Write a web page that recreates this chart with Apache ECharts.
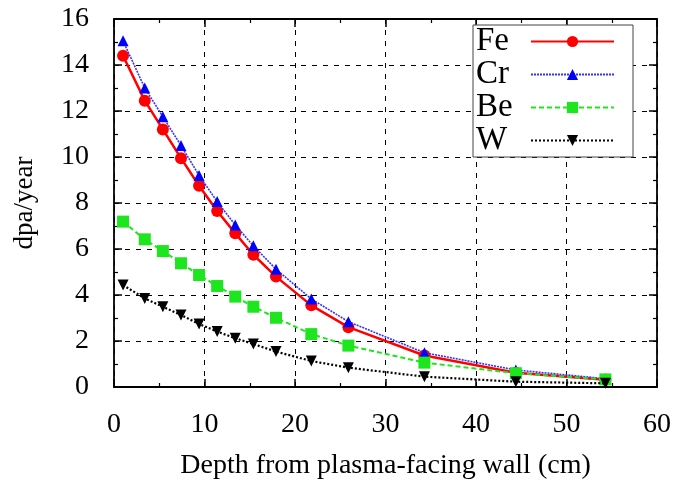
<!DOCTYPE html>
<html>
<head>
<meta charset="utf-8">
<script src="https://cdn.jsdelivr.net/npm/echarts@6/dist/echarts.min.js"></script>
<style>html,body{margin:0;padding:0;background:#fff}#c{width:675px;height:482px}</style>
</head>
<body>
<div id="c"></div>
<script>
var depth = [1, 3.4, 5.4, 7.4, 9.4, 11.4, 13.4, 15.4, 17.9, 21.8, 25.9, 34.3, 44.4, 54.3];
var fe = [14.4, 12.45, 11.2, 9.95, 8.75, 7.65, 6.68, 5.75, 4.8, 3.55, 2.6, 1.37, 0.62, 0.32];
var cr = [15.05, 13.0, 11.75, 10.5, 9.2, 8.06, 7.04, 6.14, 5.12, 3.83, 2.84, 1.49, 0.74, 0.36];
var be = [7.19, 6.42, 5.91, 5.38, 4.87, 4.39, 3.93, 3.49, 3.01, 2.30, 1.8, 1.06, 0.6, 0.33];
var w = [4.43, 3.85, 3.49, 3.13, 2.74, 2.41, 2.12, 1.87, 1.54, 1.13, 0.84, 0.45, 0.23, 0.16];
var xTicks = [0, 10, 20, 30, 40, 50, 60];
var yTicks = [0, 2, 4, 6, 8, 10, 12, 14, 16];

function pairs(ys) { return depth.map(function (x, i) { return [x, ys[i]]; }); }

var serif = 'Liberation Serif';
var chart = echarts.init(document.getElementById('c'), null, {renderer: 'canvas'});
var axisBase = {
  axisLine: {show: true, onZero: false, lineStyle: {color: '#000', width: 1.8}},
  axisTick: {show: true, inside: true, length: 8, lineStyle: {color: '#000', width: 1.5}},
  minorTick: {show: true, splitNumber: 2, length: 4, lineStyle: {color: '#000', width: 1.2}}
};
chart.setOption({
  animation: false,
  grid: {left: 114, right: 18, top: 19, bottom: 95, containLabel: false, outerBoundsMode: 'none'},
  xAxis: [
    Object.assign({
      type: 'value', min: xTicks[0], max: xTicks[xTicks.length - 1], interval: 10, position: 'bottom',
      name: 'Depth from plasma-facing wall (cm)', nameLocation: 'middle', nameGap: 65,
      nameTextStyle: {fontFamily: serif, fontSize: 28, color: '#000'},
      axisLabel: {fontFamily: serif, fontSize: 28, color: '#000', margin: 24},
      splitLine: {show: true, lineStyle: {color: '#000', type: [5, 6], width: 1}}
    }, axisBase),
    Object.assign({
      type: 'value', min: xTicks[0], max: xTicks[xTicks.length - 1], interval: 10, position: 'top',
      axisLabel: {show: false}, splitLine: {show: false}
    }, axisBase)
  ],
  yAxis: [
    Object.assign({
      type: 'value', min: yTicks[0], max: yTicks[yTicks.length - 1], interval: 2, position: 'left',
      name: 'dpa/year', nameLocation: 'middle', nameGap: 76, nameRotate: 90,
      nameTextStyle: {fontFamily: serif, fontSize: 27, color: '#000'},
      axisLabel: {fontFamily: serif, fontSize: 28, color: '#000', margin: 25},
      splitLine: {show: true, lineStyle: {color: '#000', type: [5, 6], width: 1}}
    }, axisBase),
    Object.assign({
      type: 'value', min: yTicks[0], max: yTicks[yTicks.length - 1], interval: 2, position: 'right',
      axisLabel: {show: false}, splitLine: {show: false}
    }, axisBase)
  ],
  legend: {
    orient: 'vertical', left: 473, top: 25, align: 'right',
    backgroundColor: '#fff', borderColor: '#444', borderWidth: 1,
    padding: [0, 18, 0, 3], itemGap: 0, itemWidth: 83, itemHeight: 14,
    formatter: '{a|{name}}',
    textStyle: {fontFamily: serif, fontSize: 33, color: '#000', lineHeight: 32,
      rich: {a: {fontFamily: serif, fontSize: 33, color: '#000', width: 50, align: 'left', lineHeight: 32}}},
    data: ['Fe', 'Cr', 'Be', 'W']
  },
  series: [
    {name: 'Fe', type: 'line', data: pairs(fe), symbol: 'circle', symbolSize: 12,
      lineStyle: {color: '#ff0000', width: 2.5}, itemStyle: {color: '#ff0000'}, z: 2},
    {name: 'Cr', type: 'line', data: pairs(cr), symbol: 'triangle', symbolSize: 11,
      lineStyle: {color: '#3333ff', width: 1.6, type: [2, 1]}, itemStyle: {color: '#0000ff'}, z: 3},
    {name: 'Be', type: 'line', data: pairs(be), symbol: 'rect', symbolSize: 12,
      lineStyle: {color: '#1ee61e', width: 2, type: [5, 3]}, itemStyle: {color: '#1ee61e'}, z: 4},
    {name: 'W', type: 'line', data: pairs(w), symbol: 'triangle', symbolRotate: 180, symbolSize: 11,
      lineStyle: {color: '#000', width: 2.2, type: [2, 2]}, itemStyle: {color: '#000'}, z: 5}
  ]
});
</script>
</body>
</html>
